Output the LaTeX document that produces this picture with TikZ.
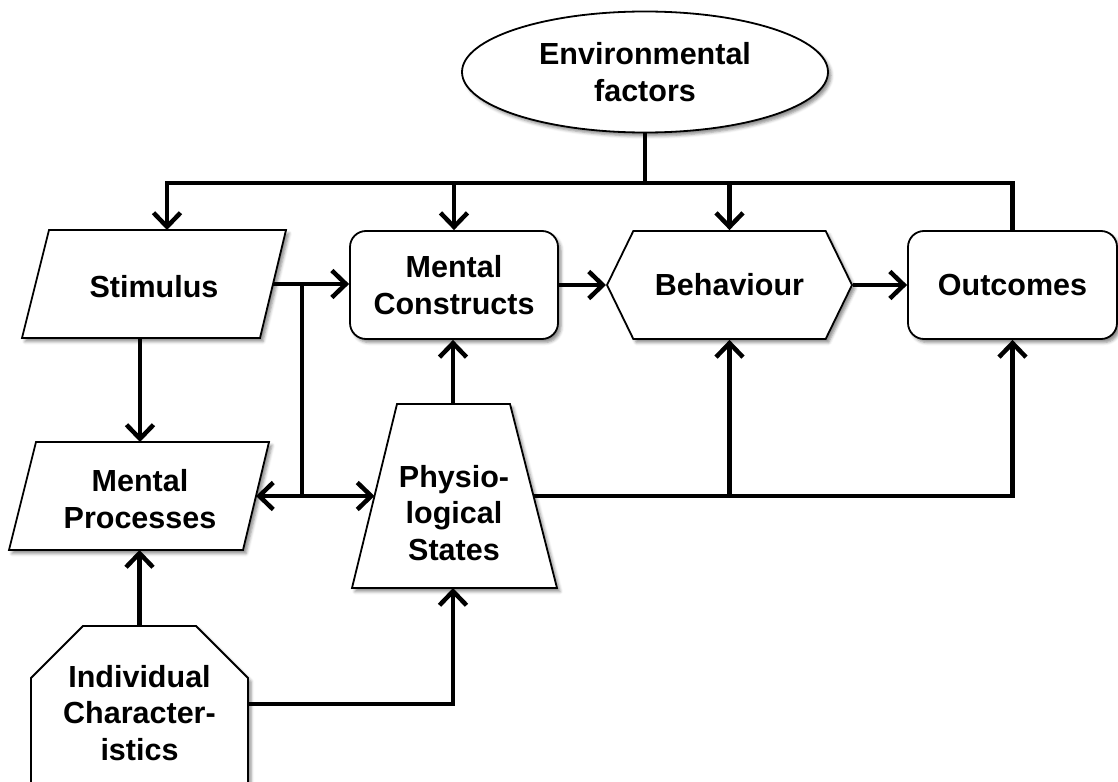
\documentclass[tikz,border=0pt]{standalone}
\usepackage{fontspec}
\setmainfont{Liberation Sans}
\usetikzlibrary{arrows.meta,shapes.geometric,shapes.misc,shapes.symbols,shadows.blur}

\begin{document}
\begin{tikzpicture}[x=1pt,y=-1pt,
  txt/.style={font=\bfseries\fontsize{30.5}{36.5}\selectfont, align=center},
  soft/.style={blur shadow={shadow xshift=3pt, shadow yshift=-3.5pt,
                 shadow blur radius=3pt, shadow opacity=45}},
  box/.style={txt, soft, draw=black, line width=1.8pt, fill=white, inner sep=0pt},
  outline/.style={soft, draw=black, line width=1.8pt, fill=white, line join=miter},
  lbl/.style={txt, inner sep=0pt},
  link/.style={line width=4.5pt, draw=black},
  arr/.style={link, -{Straight Barb[length=14pt,width=27pt]}},
]
\path[use as bounding box] (0,0) rectangle (1118,781);

% environmental factors
\node[box, ellipse, minimum width=366pt, minimum height=121pt] (env) at (645,72) {Environmental\\factors};

% stimulus (parallelogram)
\draw[outline] (49,230) -- (286,230) -- (260,338) -- (22,338) -- cycle;
\node[lbl] (stim) at (154,287) {Stimulus};
\coordinate (stimN) at (167,230);
\coordinate (stimS) at (140,338);
\coordinate (stimE) at (273,284);

% mental constructs, behaviour, outcomes
\node[box, rectangle, rounded corners=16pt, minimum width=208pt, minimum height=108pt] (mc) at (454,285) {Mental\\Constructs};
\node[box, signal, signal to=west and east, signal pointer angle=128,
      minimum width=245pt, minimum height=108pt] (beh) at (729.5,285) {Behaviour};
\node[box, rectangle, rounded corners=16pt, minimum width=209pt, minimum height=108pt] (out) at (1012.5,285) {Outcomes};

% mental processes (parallelogram)
\draw[outline] (36,442) -- (269,442) -- (243,550) -- (9,550) -- cycle;
\node[lbl] (mp) at (140,499) {Mental\\Processes};
\coordinate (mpN) at (140,442);
\coordinate (mpS) at (140,550);
\coordinate (mpE) at (256,496);

% physiological states (trapezium)
\draw[outline] (397,404) -- (510,404) -- (557,588) -- (352,588) -- cycle;
\node[lbl] (phys) at (454,513) {Physio-\\logical\\States};
\coordinate (physN) at (453,404);
\coordinate (physS) at (453,588);
\coordinate (physW) at (374.5,496);
\coordinate (physE) at (533,496);

% individual characteristics
\node[box, chamfered rectangle, chamfered rectangle corners={north west, north east},
      chamfered rectangle xsep=26pt, chamfered rectangle ysep=26pt,
      minimum width=217pt, minimum height=174pt] (ic) at (139.5,713) {Individual\\Character-\\istics};

% environmental factors bus
\coordinate (bus) at ([yshift=-49.5pt]env.south);
\draw[link] (env.south) -- (bus);
\draw[arr] (bus) -| (stimN);
\draw[arr] (bus) -| (mc.north);
\draw[arr] (bus) -| (beh.north);
\draw[link] (bus) -| (out.north);

% stimulus branch
\coordinate (j1) at (302,284);
\coordinate (j2) at (j1 |- mpE);
\draw[arr] (stimE) -- (stimE -| mc.west);
\draw[link] (j1) -- (j2);
\draw[arr] (j2) -- (mpE);
\draw[arr] (j2) -- (physW);
\draw[arr] (stimS) -- (mpN);

% main chain
\draw[arr] (mc.east) -- (beh.west);
\draw[arr] (beh.east) -- (out.west);
\draw[arr] (physN) -- (physN |- mc.south);
\draw[arr] (physE) -| (beh.south);
\draw[arr] (physE) -| (out.south);

% individual characteristics links
\draw[arr] (ic.north) -- (ic.north |- mpS);
\draw[arr] ([yshift=9pt]ic.east) -| (physS);
\end{tikzpicture}
\end{document}
